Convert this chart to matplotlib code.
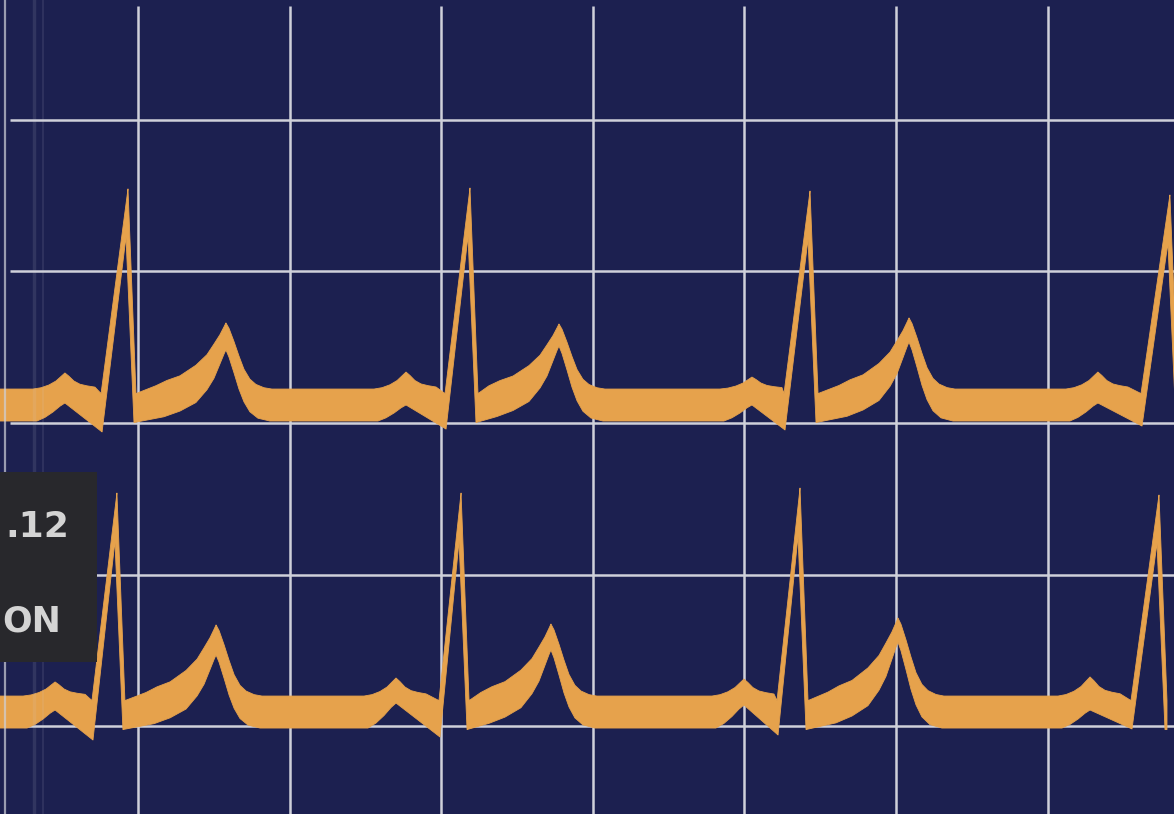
import numpy as np
import matplotlib
matplotlib.use("Agg")
import matplotlib.pyplot as plt
from matplotlib.patches import Rectangle

# ---------------- data (grid-box units) ----------------
grid_x = [1, 2, 3, 4, 5, 6, 7]
grid_y = [-2, -1, 0, 1, 2]

# row 1 (upper trace)
r1_base_up, r1_base_lo = 0.224, 0.013
r1_p_x = [0.518, 2.768, 5.050, 7.332]
r1_p_up = [0.330, 0.336, 0.303, 0.336]
r1_p_lo = [0.132, 0.119, 0.119, 0.132]
r1_q_x = [0.763, 3.032, 5.268, 7.623]
r1_q_y = [-0.059, -0.040, -0.046, -0.020]
r1_r_x = [0.934, 3.190, 5.433, 7.807]
r1_r_y = [1.544, 1.550, 1.530, 1.504]
r1_t_x = [1.580, 3.777, 6.086]
r1_t_up = [0.660, 0.653, 0.693]
r1_t_lo = [0.482, 0.508, 0.534]

# row 2 (lower trace)
r2_base_up, r2_base_lo = -1.801, -2.012
r2_p_x = [0.453, 2.702, 4.997, 7.280]
r2_p_up = [-1.708, -1.682, -1.689, -1.675]
r2_p_lo = [-1.893, -1.847, -1.860, -1.893]
r2_q_x = [0.703, 2.992, 5.222, 7.557]
r2_q_y = [-2.091, -2.071, -2.058, -2.018]
r2_r_x = [0.861, 3.131, 5.367, 7.735]
r2_r_y = [-0.462, -0.462, -0.429, -0.475]
r2_t_x = [1.515, 3.724, 6.013]
r2_t_up = [-1.332, -1.326, -1.286]
r2_t_lo = [-1.530, -1.497, -1.445]

# wave shape (offset from feature in boxes, fraction of amplitude)
p_up_dx = [-0.211, -0.158, -0.106, -0.059, -0.026, 0.0, 0.026, 0.059, 0.099, 0.145, 0.198]
p_up_fr = [0.0, 0.08, 0.25, 0.50, 0.78, 1.0, 0.80, 0.50, 0.30, 0.20, 0.12]
p_lo_dx = [-0.185, -0.132, -0.079, -0.033, 0.0]
p_lo_fr = [0.0, 0.20, 0.50, 0.82, 1.0]
t_up_dx = [-0.462, -0.389, -0.303, -0.198, -0.125, -0.079, -0.040, -0.013, 0.0,
           0.020, 0.053, 0.086, 0.119, 0.158, 0.198, 0.251, 0.303]
t_up_fr = [0.05, 0.13, 0.20, 0.36, 0.52, 0.68, 0.82, 0.94, 1.0,
           0.92, 0.72, 0.50, 0.30, 0.15, 0.07, 0.02, 0.0]
t_lo_dx = [-0.409, -0.303, -0.198, -0.125, -0.079, -0.040, -0.013, 0.0,
           0.020, 0.053, 0.086, 0.119, 0.158, 0.211, 0.290]
t_lo_fr = [0.06, 0.14, 0.26, 0.44, 0.60, 0.80, 0.94, 1.0,
           0.90, 0.68, 0.45, 0.27, 0.13, 0.04, 0.0]

label_top = ".12"
label_bottom = "ON"

# ---------------- style ----------------
BG = "#1c2050"
GRID_C = "#cfd0da"
TRACE = "#e6a24c"
BOX = "#28282c"
TXT = "#d4d4d4"

X0, X1 = 0.0897, 7.834
Y0, Y1 = -2.579, 2.790
PX = 1 / 151.6


def build(bu, bl, p_x, p_up, p_lo, q_x, q_y, r_x, r_y, t_x, t_up, t_lo):
    ux, uy = [X0 - 0.1], [bu]
    lx, ly = [X0 - 0.1], [bl]
    for i in range(len(r_x)):
        a = p_up[i] - bu
        for d, f in zip(p_up_dx, p_up_fr):
            ux.append(p_x[i] + d); uy.append(bu + f * a)
        b = p_lo[i] - bl
        for d, f in zip(p_lo_dx, p_lo_fr):
            lx.append(p_x[i] + d); ly.append(bl + f * b)
        # QRS complex
        ux += [q_x[i] - 1 * PX, r_x[i], r_x[i] + 8 * PX]
        uy += [bu - 0.03, r_y[i], bu - 0.03]
        lx += [q_x[i], r_x[i] - 2 * PX, r_x[i] + 6 * PX]
        ly += [q_y[i], r_y[i] - 48 * PX, bl - 0.01]
        if i < len(t_x):
            a = t_up[i] - bu
            for d, f in zip(t_up_dx, t_up_fr):
                ux.append(t_x[i] + d); uy.append(bu + f * a)
            b = t_lo[i] - bl
            for d, f in zip(t_lo_dx, t_lo_fr):
                lx.append(t_x[i] + d); ly.append(bl + f * b)
    if len(t_x) == len(r_x):
        ux.append(X1 + 0.1); uy.append(bu)
        lx.append(X1 + 0.1); ly.append(bl)
    ux, uy, lx, ly = map(np.asarray, (ux, uy, lx, ly))
    xs = np.union1d(ux, lx)
    xs = np.union1d(xs, np.linspace(xs.min(), xs.max(), 4000))
    return xs, np.interp(xs, ux, uy), np.interp(xs, lx, ly)


fig = plt.figure(figsize=(11.74, 8.14), dpi=100, facecolor=BG)
ax = fig.add_axes([0, 0, 1, 1])
ax.set_xlim(X0, X1)
ax.set_ylim(Y0, Y1)
ax.set_axis_off()

# grid
ax.vlines(grid_x, Y0 - 0.1, Y1 - 6 * PX, color=GRID_C, lw=1.8, zorder=1)
ax.hlines(grid_y, X0 + 10 * PX, X1 + 0.1, color=GRID_C, lw=1.8, zorder=1)

# traces
rows = [
    (r1_base_up, r1_base_lo, r1_p_x, r1_p_up, r1_p_lo, r1_q_x, r1_q_y,
     r1_r_x, r1_r_y, r1_t_x, r1_t_up, r1_t_lo),
    (r2_base_up, r2_base_lo, r2_p_x, r2_p_up, r2_p_lo, r2_q_x, r2_q_y,
     r2_r_x, r2_r_y, r2_t_x, r2_t_up, r2_t_lo),
]
for row in rows:
    xs, yu, yl = build(*row)
    ax.fill_between(xs, yl, yu, color=TRACE, lw=0.6, edgecolor=TRACE, zorder=3)

# label box at the left edge
fig.patches.append(Rectangle((0, (814 - 662) / 814), 97 / 1174, 190 / 814,
                             transform=fig.transFigure, facecolor=BOX,
                             edgecolor="none", zorder=4))
fig.text(5 / 1174, (814 - 537) / 814, label_top, fontsize=26, fontweight="bold",
         family=["DejaVu Sans"], color=TXT, ha="left", va="baseline", zorder=5)
fig.text(2 / 1174, (814 - 632) / 814, label_bottom, fontsize=25, fontweight="bold",
         family=["DejaVu Sans"], color=TXT, ha="left", va="baseline", zorder=5)

# spine fold lines at the far left
ax.axvline(X0 + 5 * PX, color=GRID_C, lw=1.6, alpha=0.7, zorder=6)
ax.axvline(X0 + 34 * PX, color=GRID_C, lw=2.5, alpha=0.12, zorder=6)
ax.axvline(X0 + 43 * PX, color=GRID_C, lw=1.5, alpha=0.10, zorder=6)

fig.savefig("out.png", dpi=100, facecolor=BG)
